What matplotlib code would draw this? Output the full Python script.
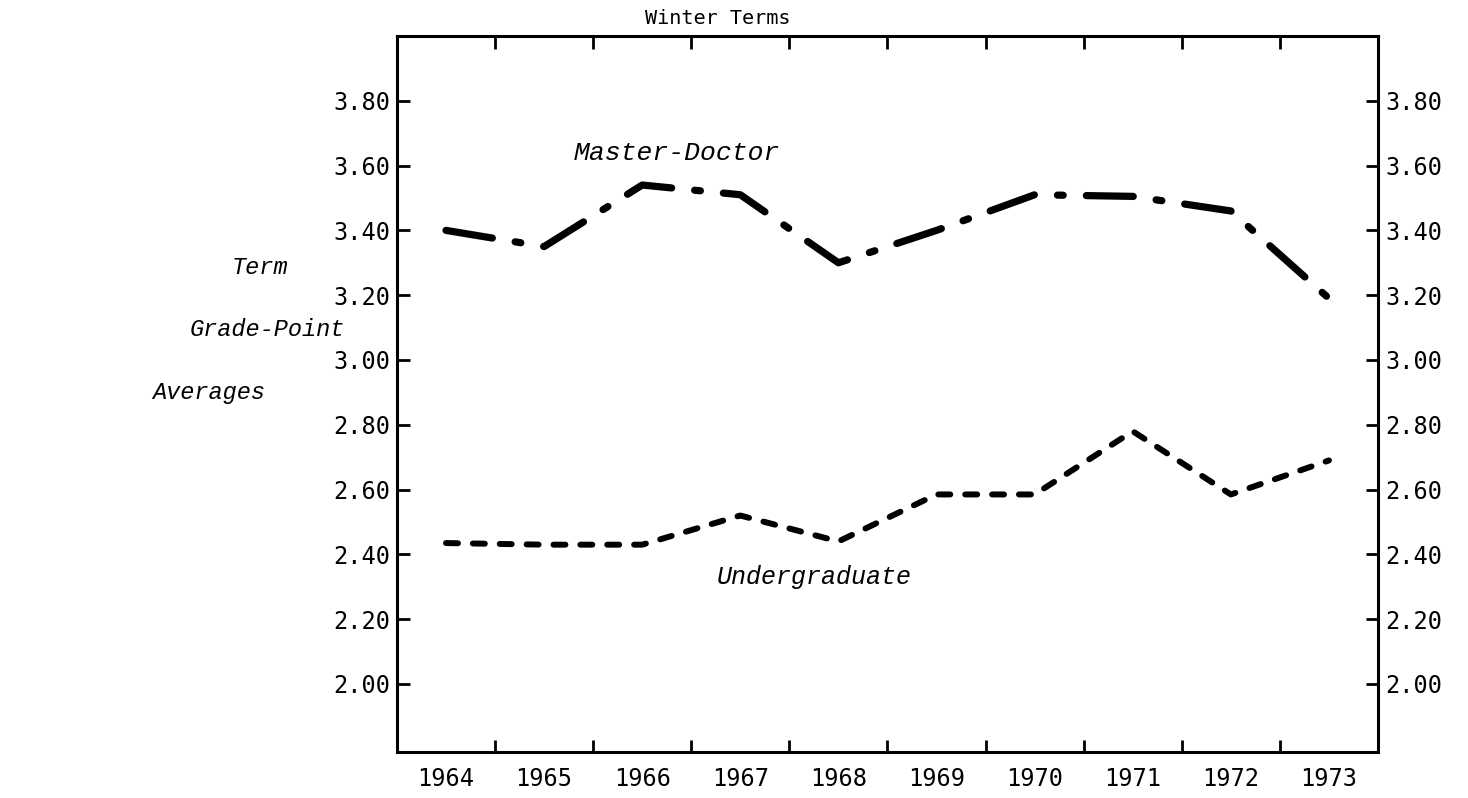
###
# Term grade-point averages, winter terms 1964-1973.
###

# pip install matplotlib numpy
import matplotlib
matplotlib.use('Agg')
import matplotlib.pyplot as plt
import numpy as np


years         = ['1964', '1965', '1966', '1967', '1968', '1969', '1970', '1971', '1972', '1973']
master_doctor = [3.40, 3.35, 3.54, 3.51, 3.30, 3.40, 3.51, 3.505, 3.46, 3.19]
undergraduate = [2.435, 2.43, 2.43, 2.52, 2.44, 2.585, 2.585, 2.78, 2.585, 2.69]
gpa_ticks     = [2.00, 2.20, 2.40, 2.60, 2.80, 3.00, 3.20, 3.40, 3.60, 3.80]


# Main function.
def main() -> int:
# {
    mono   = 'DejaVu Sans Mono'
    italic = {'family': 'Liberation Mono', 'style': 'italic'}

    fig = plt.figure(figsize = (14.68, 7.98), dpi = 100)
    ax  = fig.add_axes([0.2704, 0.0576, 0.6683, 0.8973])

    x = np.arange(len(years))

    # ================== lines. ===========================.
    md_line, = ax.plot(x, master_doctor, color = 'black', lw = 5.2,
                       solid_capstyle = 'round', dash_capstyle = 'round')
    md_line.set_dashes((6.5, 3.2, 0.8, 3.2))

    ug_line, = ax.plot(x, undergraduate, color = 'black', lw = 4.3,
                       solid_capstyle = 'round', dash_capstyle = 'round')
    ug_line.set_dashes((2.0, 2.5))

    # ================== axes. ============================.
    ax.set_xlim(-0.5, len(years) - 0.5)
    ax.set_ylim(1.79, 4.0)

    for spine in ax.spines.values():
        spine.set_linewidth(2.2)

    # year boundaries carry the ticks, year centres carry the labels.
    ax.set_xticks(x[:-1] + 0.5)
    ax.set_xticklabels([])
    ax.set_xticks(x, minor = True)
    ax.set_xticklabels(years, minor = True, fontfamily = mono, fontsize = 17)
    ax.tick_params(axis = 'x', which = 'major', direction = 'in', top = True,
                   bottom = True, length = 9, width = 2)
    ax.tick_params(axis = 'x', which = 'minor', length = 0, pad = 11)

    ax.set_yticks(gpa_ticks)
    ax.set_yticklabels(['%.2f' % v for v in gpa_ticks], fontfamily = mono, fontsize = 17)
    ax.tick_params(axis = 'y', direction = 'in', left = True, right = True,
                   labelleft = True, labelright = True, length = 9, width = 2, pad = 5)
    for lab in ax.get_yticklabels(which = 'both'):
        lab.set_fontfamily(mono)
    ax.yaxis.set_tick_params(labelsize = 17)

    # ================== text. ============================.
    fig.text(718 / 1468, 1 - 18 / 798, 'Winter Terms', ha = 'center', va = 'center',
             fontfamily = mono, fontsize = 14.5)

    ax.text(2.35, 3.64, 'Master-Doctor', ha = 'center', va = 'center', fontsize = 19, **italic)
    ax.text(3.75, 2.33, 'Undergraduate', ha = 'center', va = 'center', fontsize = 18, **italic)

    fig.text(260 / 1468, 1 - 268 / 798, 'Term', ha = 'center', va = 'center', fontsize = 17, **italic)
    fig.text(267 / 1468, 1 - 330 / 798, 'Grade-Point', ha = 'center', va = 'center', fontsize = 17, **italic)
    fig.text(209 / 1468, 1 - 393 / 798, 'Averages', ha = 'center', va = 'center', fontsize = 17, **italic)

    fig.savefig('out.png', dpi = 100)

    return 0
# }


# Program entry.
if '__main__' == __name__:
# {
    main()
# }
